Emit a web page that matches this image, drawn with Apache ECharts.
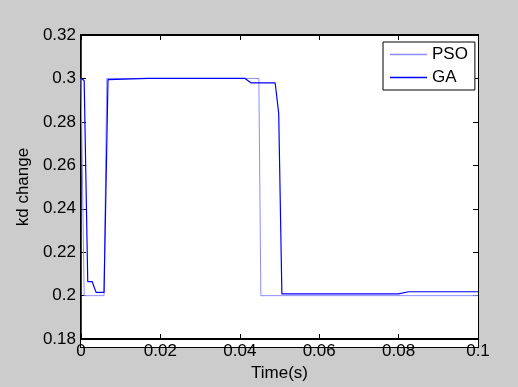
<!DOCTYPE html>
<html>
<head>
<meta charset="utf-8">
<script src="https://cdn.jsdelivr.net/npm/echarts@6/dist/echarts.min.js"></script>
<style>
  html, body { margin: 0; padding: 0; background: #cccccc; }
  #wrap { position: relative; width: 518px; height: 387px; background: #cccccc; }
  /* white plot area + thin frame behind the transparent chart canvas */
  #plotbg { position: absolute; left: 80px; top: 34px; width: 397px; height: 312px; background: #fff; border: 1px solid #000; }
  #chart { position: absolute; left: 0; top: 0; width: 518px; height: 387px; }
</style>
</head>
<body>
<div id="wrap">
  <div id="plotbg"></div>
  <div id="chart"></div>
</div>
<script>
const psoTime = [0, 0.0008, 0.0058, 0.0065, 0.0448, 0.0453, 0.1]
const psoKd   = [0.3, 0.2, 0.2, 0.3, 0.3, 0.2, 0.2]

const gaTime = [0, 0.0008, 0.0017, 0.0028, 0.0038, 0.0058, 0.0068, 0.017, 0.0413, 0.0428, 0.0489, 0.0498, 0.0506, 0.08, 0.0825, 0.1]
const gaKd   = [0.3, 0.299, 0.2065, 0.2065, 0.2015, 0.2015, 0.2995, 0.3, 0.3, 0.298, 0.298, 0.284, 0.2008, 0.2008, 0.2018, 0.2018]

const PSO_COLOR = '#8c8cff'
const GA_COLOR = '#0000ff'
const FONT = 'Liberation Sans, Arial, sans-serif'
const FS = 17
const pairs = (t, v) => t.map((x, i) => [x, v[i]])

const tick = () => ({ show: true, inside: true, length: 5, lineStyle: { color: '#000', width: 1 } })

const chart = echarts.init(document.getElementById('chart'), null, { renderer: 'canvas' })

const option = {
  backgroundColor: 'transparent',
  animation: false,
  textStyle: { fontFamily: FONT },
  grid: { left: 81, top: 35, right: 40, bottom: 40 },
  legend: {
    left: 383, top: 42,
    orient: 'vertical',
    backgroundColor: '#fff',
    borderColor: '#000', borderWidth: 1,
    padding: [4, 7, 4, 7],
    icon: 'rect',
    itemWidth: 37, itemHeight: 1.5, itemGap: 6,
    textStyle: { fontSize: FS, color: '#000', fontFamily: FONT },
    data: ['PSO', 'GA']
  },
  xAxis: [{
    type: 'value', min: 0, max: 0.1, interval: 0.02,
    name: 'Time(s)', nameLocation: 'middle', nameGap: 23,
    nameTextStyle: { fontSize: FS, color: '#000', fontFamily: FONT },
    axisLine: { show: true, onZero: false, lineStyle: { color: '#000', width: 2 } },
    axisTick: tick(),
    axisLabel: { fontSize: FS, color: '#000', margin: 4, fontFamily: FONT },
    splitLine: { show: false }
  }, {
    type: 'value', min: 0, max: 0.1, interval: 0.02, position: 'top',
    axisLine: { show: true, onZero: false, lineStyle: { color: '#000', width: 1 } },
    axisTick: tick(), axisLabel: { show: false }, splitLine: { show: false }
  }],
  yAxis: [{
    type: 'value', min: 0.18, max: 0.32, interval: 0.02,
    name: 'kd change', nameLocation: 'middle', nameGap: 45,
    nameTextStyle: { fontSize: FS, color: '#000', fontFamily: FONT },
    axisLine: { show: true, onZero: false, lineStyle: { color: '#000', width: 1.5 } },
    axisTick: tick(),
    axisLabel: { fontSize: FS, color: '#000', margin: 5, fontFamily: FONT },
    splitLine: { show: false }
  }, {
    type: 'value', min: 0.18, max: 0.32, interval: 0.02, position: 'right',
    axisLine: { show: true, onZero: false, lineStyle: { color: '#000', width: 1 } },
    axisTick: tick(), axisLabel: { show: false }, splitLine: { show: false }
  }],
  series: [{
    name: 'PSO', type: 'line', symbol: 'none',
    data: pairs(psoTime, psoKd),
    lineStyle: { color: PSO_COLOR, width: 1 },
    itemStyle: { color: PSO_COLOR }
  }, {
    name: 'GA', type: 'line', symbol: 'none',
    data: pairs(gaTime, gaKd),
    lineStyle: { color: GA_COLOR, width: 1.2 },
    itemStyle: { color: GA_COLOR }
  }]
}

chart.setOption(option)
</script>
</body>
</html>
